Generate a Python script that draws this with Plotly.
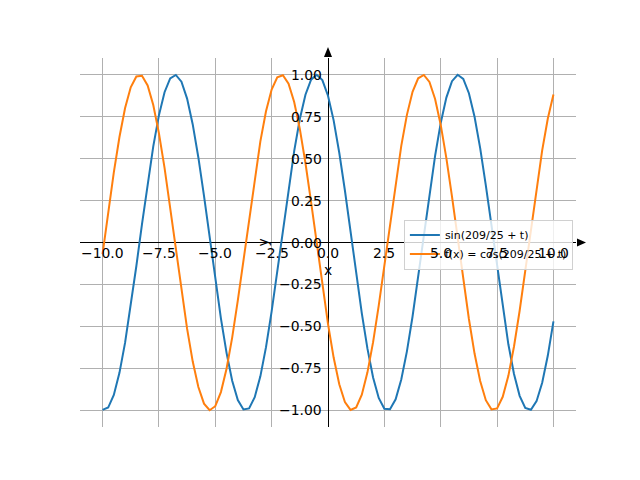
import plotly.graph_objects as go

t_vals = [-10.0, -9.75, -9.5, -9.25, -9.0, -8.75, -8.5, -8.25, -8.0, -7.75,
          -7.5, -7.25, -7.0, -6.75, -6.5, -6.25, -6.0, -5.75, -5.5, -5.25,
          -5.0, -4.75, -4.5, -4.25, -4.0, -3.75, -3.5, -3.25, -3.0, -2.75,
          -2.5, -2.25, -2.0, -1.75, -1.5, -1.25, -1.0, -0.75, -0.5, -0.25,
          0.0, 0.25, 0.5, 0.75, 1.0, 1.25, 1.5, 1.75, 2.0, 2.25,
          2.5, 2.75, 3.0, 3.25, 3.5, 3.75, 4.0, 4.25, 4.5, 4.75,
          5.0, 5.25, 5.5, 5.75, 6.0, 6.25, 6.5, 6.75, 7.0, 7.25,
          7.5, 7.75, 8.0, 8.25, 8.5, 8.75, 9.0, 9.25, 9.5, 9.75, 10.0]
sin_vals = [-0.998, -0.984, -0.909, -0.777, -0.597, -0.380, -0.140, 0.110, 0.352, 0.573,
            0.758, 0.896, 0.978, 0.999, 0.959, 0.858, 0.704, 0.507, 0.278, 0.032,
            -0.217, -0.452, -0.658, -0.824, -0.939, -0.995, -0.989, -0.922, -0.798, -0.624,
            -0.411, -0.172, 0.077, 0.321, 0.545, 0.736, 0.881, 0.971, 1.000, 0.968,
            0.875, 0.728, 0.535, 0.310, 0.065, -0.184, -0.422, -0.633, -0.805, -0.927,
            -0.991, -0.994, -0.935, -0.817, -0.649, -0.441, -0.205, 0.044, 0.289, 0.517,
            0.713, 0.864, 0.962, 1.000, 0.975, 0.890, 0.750, 0.563, 0.341, 0.098,
            -0.151, -0.391, -0.607, -0.784, -0.914, -0.986, -0.997, -0.946, -0.836, -0.674, -0.470]
cos_vals = [-0.069, 0.180, 0.418, 0.629, 0.802, 0.925, 0.990, 0.994, 0.936, 0.820,
            0.652, 0.445, 0.209, -0.039, -0.285, -0.514, -0.710, -0.862, -0.961, -1.000,
            -0.976, -0.892, -0.753, -0.567, -0.345, -0.102, 0.147, 0.388, 0.603, 0.782,
            0.912, 0.985, 0.997, 0.947, 0.838, 0.677, 0.474, 0.241, -0.006, -0.253,
            -0.485, -0.686, -0.845, -0.951, -0.998, -0.983, -0.907, -0.774, -0.594, -0.376,
            -0.135, 0.114, 0.357, 0.576, 0.761, 0.898, 0.979, 0.999, 0.957, 0.856,
            0.701, 0.503, 0.274, 0.027, -0.221, -0.456, -0.662, -0.826, -0.940, -0.995,
            -0.989, -0.920, -0.795, -0.620, -0.407, -0.168, 0.081, 0.325, 0.549, 0.739, 0.883]

series_names = ['sin(209/25 + t)', 'f(x) = cos(209/25 + t)']
series_colors = ['#1f77b4', '#ff7f0e']

x_ticks = [-10.0, -7.5, -5.0, -2.5, 0.0, 2.5, 5.0, 7.5, 10.0]
x_tick_text = ['\u221210.0', '\u22127.5', '\u22125.0', '\u22122.5', '0.0', '2.5', '5.0', '7.5', '10.0']
y_ticks = [-1.0, -0.75, -0.5, -0.25, 0.0, 0.25, 0.5, 0.75, 1.0]
y_tick_text = ['\u22121.00', '\u22120.75', '\u22120.50', '\u22120.25', '0.00', '0.25', '0.50', '0.75', '1.00']

font_name = 'DejaVu Sans'

fig = go.Figure()
for name, vals, col in zip(series_names, [sin_vals, cos_vals], series_colors):
    fig.add_trace(go.Scatter(
        x=t_vals, y=vals, mode='lines', name=name,
        line=dict(color=col, width=2)
    ))

annotations = []
for v, txt in zip(x_ticks, x_tick_text):
    annotations.append(dict(x=v, y=0, xref='x', yref='y', text=txt, showarrow=False,
                            xanchor='center', yanchor='top', yshift=0,
                            font=dict(family=font_name, size=13.9, color='black')))
for v, txt in zip(y_ticks, y_tick_text):
    annotations.append(dict(x=0, y=v, xref='x', yref='y', text=txt, showarrow=False,
                            xanchor='right', yanchor='middle', xshift=-4,
                            font=dict(family=font_name, size=13.9, color='black')))
annotations.append(dict(x=0, y=0, xref='x', yref='y', text='x', showarrow=False,
                        xanchor='center', yanchor='top', yshift=-17,
                        font=dict(family=font_name, size=13.9, color='black')))
annotations.append(dict(x=0, y=0, xref='x', yref='y', text='y', showarrow=False,
                        textangle=-90, xanchor='center', yanchor='middle', xshift=-66,
                        font=dict(family=font_name, size=13.9, color='black')))

# arrow heads at the ends of the centred axes
shapes = [
    dict(type='path', xref='paper', yref='paper', layer='above',
         path='M 0.4919 1.0027 L 0.5081 1.0027 L 0.5 1.0298 Z',
         fillcolor='black', line=dict(color='black', width=0)),
    dict(type='path', xref='paper', yref='paper', layer='above',
         path='M 1.002 0.4892 L 1.002 0.5108 L 1.0202 0.5 Z',
         fillcolor='black', line=dict(color='black', width=0)),
]

fig.update_layout(
    width=640, height=480,
    # the page body adds 8px on the left and top
    margin=dict(l=72, r=72, t=50, b=61),
    paper_bgcolor='white', plot_bgcolor='white',
    font=dict(family=font_name, size=11, color='black'),
    showlegend=True,
    legend=dict(x=0.653, y=0.562, xanchor='left', yanchor='top',
                bgcolor='rgba(255,255,255,0.8)', bordercolor='#d0d0d0', borderwidth=1,
                font=dict(family=font_name, size=11), tracegroupgap=0,
                itemwidth=30),
    annotations=annotations,
    shapes=shapes,
    xaxis=dict(range=[-11, 11], tickmode='array', tickvals=x_ticks, showticklabels=False,
               showgrid=True, gridcolor='#b0b0b0', gridwidth=1,
               zeroline=True, zerolinecolor='black', zerolinewidth=1.2,
               showline=False, ticks=''),
    yaxis=dict(range=[-1.1, 1.1], tickmode='array', tickvals=y_ticks, showticklabels=False,
               showgrid=True, gridcolor='#b0b0b0', gridwidth=1,
               zeroline=True, zerolinecolor='black', zerolinewidth=1.2,
               showline=False, ticks=''),
)

fig.write_html('out.html')
